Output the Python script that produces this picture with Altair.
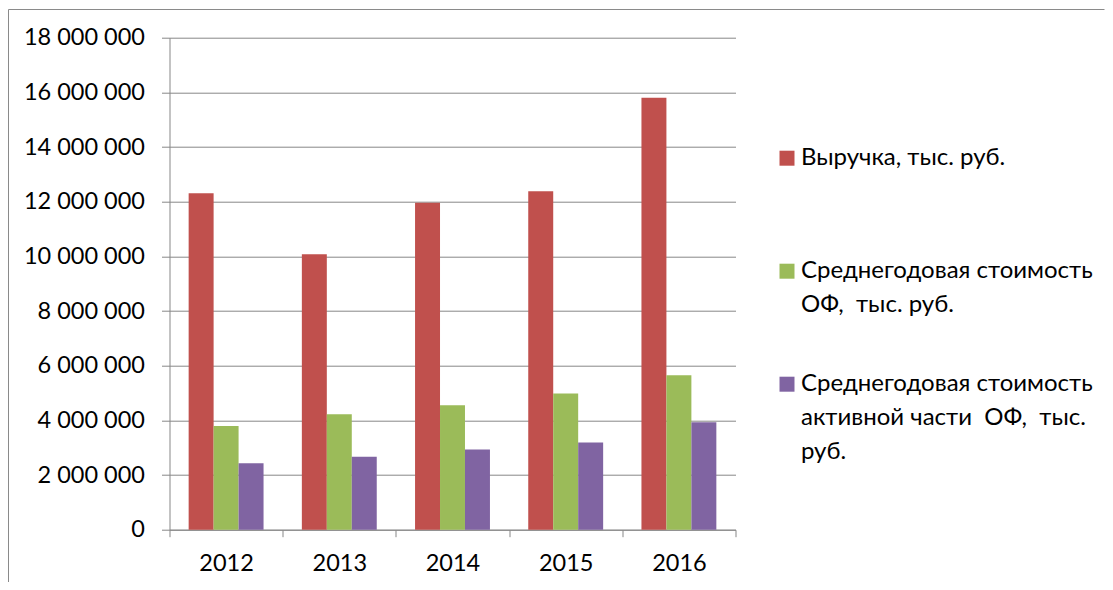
import altair as alt
import pandas as pd

# ---- data ----
years = ["2012", "2013", "2014", "2015", "2016"]
revenue = [12310000, 10080000, 11960000, 12380000, 15800000]
fixed_assets = [3790000, 4220000, 4550000, 4980000, 5650000]
active_assets = [2430000, 2670000, 2930000, 3190000, 3930000]
series_names = [
    "Выручка, тыс. руб.",
    "Среднегодовая стоимость ОФ,  тыс. руб.",
    "Среднегодовая стоимость активной части  ОФ,  тыс. руб.",
]
legend_lines = [
    ["Выручка, тыс. руб."],
    ["Среднегодовая стоимость", "ОФ,  тыс. руб."],
    ["Среднегодовая стоимость", "активной части  ОФ,  тыс.", "руб."],
]
colors = ["#C0504D", "#9BBB59", "#8064A2"]
y_ticks = [0, 2000000, 4000000, 6000000, 8000000, 10000000, 12000000,
           14000000, 16000000, 18000000]

FONT = "Lato, Open Sans"
FS_AXIS = 23.5
FS_LEG = 24
GRAY = "#878787"

rows = []
for vals, name in zip([revenue, fixed_assets, active_assets], series_names):
    for y, v in zip(years, vals):
        rows.append({"year": y, "series": name, "value": v})
df = pd.DataFrame(rows)

leg_rows = []
for i, (name, lines) in enumerate(zip(series_names, legend_lines)):
    for j, t in enumerate(lines):
        # keep the double spaces visible in SVG
        leg_rows.append({"entry": i, "line": j,
                         "text": t.replace("  ", "\u00a0 "), "series": name})
leg_df = pd.DataFrame(leg_rows)

W, H = 566, 492

bars = alt.Chart(df).mark_bar().encode(
    x=alt.X("year:N", sort=years,
            scale=alt.Scale(paddingInner=0, paddingOuter=0),
            axis=alt.Axis(title=None, labelAngle=0, tickBand="extent",
                          tickSize=7, labelPadding=15, grid=False,
                          domainColor=GRAY, tickColor=GRAY)),
    xOffset=alt.XOffset("series:N", sort=series_names,
                        scale=alt.Scale(paddingInner=0, paddingOuter=0.767)),
    y=alt.Y("value:Q",
            scale=alt.Scale(domain=[0, 18000000], nice=False),
            axis=alt.Axis(title=None, values=y_ticks, tickSize=8,
                          labelPadding=17, grid=True, gridColor=GRAY,
                          domainColor=GRAY, tickColor=GRAY,
                          labelExpr="join(split(format(datum.value, ','), ','), ' ')")),
    color=alt.Color("series:N", scale=alt.Scale(domain=series_names, range=colors),
                    legend=None),
)

one = pd.DataFrame({"k": [0]})
frame_top = alt.Chart(one).mark_rule(color="#8a8a8a", strokeWidth=1).encode(
    x=alt.value(-161), x2=alt.value(935), y=alt.value(-28.2))
frame_left = alt.Chart(one).mark_rule(color="#8a8a8a", strokeWidth=1).encode(
    x=alt.value(-161), y=alt.value(-28.2), y2=alt.value(545))

ly_scale = alt.Scale(domain=[0, H], range=[0, H], nice=False, zero=False)
leg_base = alt.Chart(leg_df).transform_calculate(
    ly="120.5 + 113*datum.entry + 34*datum.line")
leg_sq = leg_base.transform_filter("datum.line == 0").mark_square(
    size=225, opacity=1).encode(
    x=alt.value(617.5),
    y=alt.Y("ly:Q", scale=ly_scale, axis=None),
    color=alt.Color("series:N", scale=alt.Scale(domain=series_names, range=colors),
                    legend=None),
)
leg_txt = leg_base.mark_text(align="left", baseline="middle", font=FONT,
                             fontSize=FS_LEG, color="black").encode(
    x=alt.value(631.5),
    y=alt.Y("ly:Q", scale=ly_scale, axis=None),
    text="text:N",
)

chart = alt.layer(bars, frame_top, frame_left, leg_sq, leg_txt).resolve_scale(
    y="independent"
).properties(
    width=W, height=H,
    autosize=alt.AutoSizeParams(type="none"),
    padding={"left": 161.5, "top": 29.7, "right": 369.5, "bottom": 52.3},
).configure_view(strokeWidth=0).configure_axis(
    labelFont=FONT, labelFontSize=FS_AXIS, labelColor="black",
)

chart.save("out.html", embed_options={"renderer": "svg", "actions": False})
